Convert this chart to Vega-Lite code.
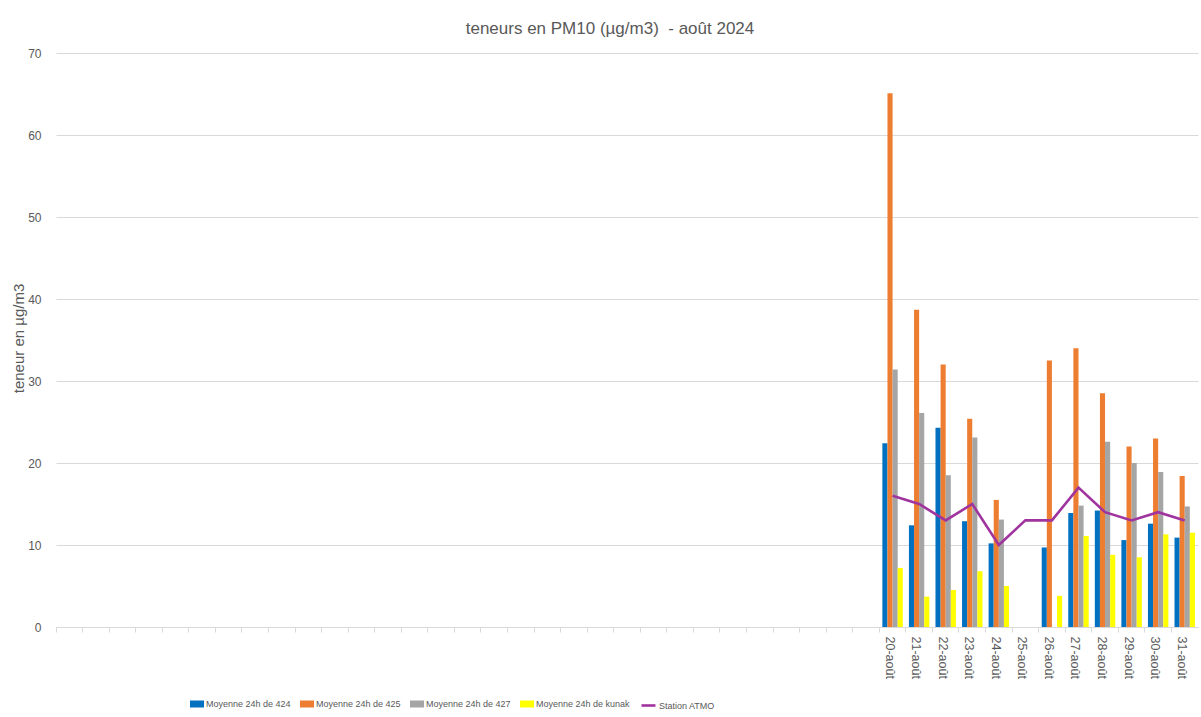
{
  "$schema": "https://vega.github.io/schema/vega-lite/v6.json",
  "width": 1142,
  "height": 574,
  "autosize": {"type": "none"},
  "padding": {"left": 56, "top": 53, "right": 3, "bottom": 90},
  "background": "white",
  "config": {"view": {"stroke": null}, "font": "Liberation Sans"},
  "title": {"text": "teneurs en PM10 (µg/m3)\u00a0 - août 2024", "fontSize": 17, "fontWeight": "normal", "color": "#595959", "offset": 9, "dx": -17, "anchor": "middle"},
  "datasets": {
    "bars": [
      {"jour": "20-août", "serie": "Moyenne 24h de 424", "valeur": 22.4},
      {"jour": "20-août", "serie": "Moyenne 24h de 425", "valeur": 65.1},
      {"jour": "20-août", "serie": "Moyenne 24h de 427", "valeur": 31.4},
      {"jour": "20-août", "serie": "Moyenne 24h de kunak", "valeur": 7.2},
      {"jour": "21-août", "serie": "Moyenne 24h de 424", "valeur": 12.4},
      {"jour": "21-août", "serie": "Moyenne 24h de 425", "valeur": 38.7},
      {"jour": "21-août", "serie": "Moyenne 24h de 427", "valeur": 26.1},
      {"jour": "21-août", "serie": "Moyenne 24h de kunak", "valeur": 3.7},
      {"jour": "22-août", "serie": "Moyenne 24h de 424", "valeur": 24.3},
      {"jour": "22-août", "serie": "Moyenne 24h de 425", "valeur": 32.0},
      {"jour": "22-août", "serie": "Moyenne 24h de 427", "valeur": 18.5},
      {"jour": "22-août", "serie": "Moyenne 24h de kunak", "valeur": 4.5},
      {"jour": "23-août", "serie": "Moyenne 24h de 424", "valeur": 12.9},
      {"jour": "23-août", "serie": "Moyenne 24h de 425", "valeur": 25.4},
      {"jour": "23-août", "serie": "Moyenne 24h de 427", "valeur": 23.1},
      {"jour": "23-août", "serie": "Moyenne 24h de kunak", "valeur": 6.8},
      {"jour": "24-août", "serie": "Moyenne 24h de 424", "valeur": 10.2},
      {"jour": "24-août", "serie": "Moyenne 24h de 425", "valeur": 15.5},
      {"jour": "24-août", "serie": "Moyenne 24h de 427", "valeur": 13.1},
      {"jour": "24-août", "serie": "Moyenne 24h de kunak", "valeur": 5.0},
      {"jour": "26-août", "serie": "Moyenne 24h de 424", "valeur": 9.7},
      {"jour": "26-août", "serie": "Moyenne 24h de 425", "valeur": 32.5},
      {"jour": "26-août", "serie": "Moyenne 24h de kunak", "valeur": 3.8},
      {"jour": "27-août", "serie": "Moyenne 24h de 424", "valeur": 13.9},
      {"jour": "27-août", "serie": "Moyenne 24h de 425", "valeur": 34.0},
      {"jour": "27-août", "serie": "Moyenne 24h de 427", "valeur": 14.8},
      {"jour": "27-août", "serie": "Moyenne 24h de kunak", "valeur": 11.1},
      {"jour": "28-août", "serie": "Moyenne 24h de 424", "valeur": 14.2},
      {"jour": "28-août", "serie": "Moyenne 24h de 425", "valeur": 28.5},
      {"jour": "28-août", "serie": "Moyenne 24h de 427", "valeur": 22.6},
      {"jour": "28-août", "serie": "Moyenne 24h de kunak", "valeur": 8.8},
      {"jour": "29-août", "serie": "Moyenne 24h de 424", "valeur": 10.6},
      {"jour": "29-août", "serie": "Moyenne 24h de 425", "valeur": 22.0},
      {"jour": "29-août", "serie": "Moyenne 24h de 427", "valeur": 20.0},
      {"jour": "29-août", "serie": "Moyenne 24h de kunak", "valeur": 8.5},
      {"jour": "30-août", "serie": "Moyenne 24h de 424", "valeur": 12.6},
      {"jour": "30-août", "serie": "Moyenne 24h de 425", "valeur": 23.0},
      {"jour": "30-août", "serie": "Moyenne 24h de 427", "valeur": 18.9},
      {"jour": "30-août", "serie": "Moyenne 24h de kunak", "valeur": 11.3},
      {"jour": "31-août", "serie": "Moyenne 24h de 424", "valeur": 10.9},
      {"jour": "31-août", "serie": "Moyenne 24h de 425", "valeur": 18.4},
      {"jour": "31-août", "serie": "Moyenne 24h de 427", "valeur": 14.7},
      {"jour": "31-août", "serie": "Moyenne 24h de kunak", "valeur": 11.5}
    ],
    "atmo": [
      {"jour": "20-août", "serie": "Station ATMO", "valeur": 16},
      {"jour": "21-août", "serie": "Station ATMO", "valeur": 15},
      {"jour": "22-août", "serie": "Station ATMO", "valeur": 13},
      {"jour": "23-août", "serie": "Station ATMO", "valeur": 15},
      {"jour": "24-août", "serie": "Station ATMO", "valeur": 10},
      {"jour": "25-août", "serie": "Station ATMO", "valeur": 13},
      {"jour": "26-août", "serie": "Station ATMO", "valeur": 13},
      {"jour": "27-août", "serie": "Station ATMO", "valeur": 17},
      {"jour": "28-août", "serie": "Station ATMO", "valeur": 14},
      {"jour": "29-août", "serie": "Station ATMO", "valeur": 13},
      {"jour": "30-août", "serie": "Station ATMO", "valeur": 14},
      {"jour": "31-août", "serie": "Station ATMO", "valeur": 13}
    ]
  },
  "encoding": {
    "x": {
      "field": "jour",
      "type": "nominal",
      "sort": null,
      "scale": {
        "domain": ["_01","_02","_03","_04","_05","_06","_07","_08","_09","_10","_11","_12","_13","_14","_15","_16","_17","_18","_19","_20","_21","_22","_23","_24","_25","_26","_27","_28","_29","_30","_31","20-août","21-août","22-août","23-août","24-août","25-août","26-août","27-août","28-août","29-août","30-août","31-août"],
        "paddingInner": 0,
        "paddingOuter": 0
      },
      "axis": {
        "title": null,
        "labelExpr": "indexof(datum.label, '_') === 0 ? '' : datum.label",
        "labelAngle": 90,
        "labelAlign": "left",
        "labelBaseline": "middle",
        "labelFontSize": 12.5,
        "labelColor": "#595959",
        "labelPadding": 4,
        "bandPosition": 0,
        "labelOffset": -3,
        "domainColor": "#d9d9d9",
        "tickColor": "#d9d9d9",
        "tickSize": 5,
        "grid": false
      }
    },
    "y": {
      "field": "valeur",
      "type": "quantitative",
      "scale": {"domain": [0, 70], "nice": false},
      "axis": {
        "values": [0, 10, 20, 30, 40, 50, 60, 70],
        "title": "teneur en µg/m3",
        "titleFontSize": 15,
        "titleFontWeight": "normal",
        "titleColor": "#595959",
        "titleX": -38,
        "titleY": 285,
        "titleAngle": -90,
        "titleAlign": "center",
        "titleBaseline": "middle",
        "labelFontSize": 12,
        "labelColor": "#595959",
        "labelPadding": 15,
        "domain": false,
        "ticks": false,
        "grid": true,
        "gridColor": "#d9d9d9"
      }
    }
  },
  "layer": [
    {
      "data": {"name": "bars"},
      "mark": {"type": "bar"},
      "encoding": {
        "xOffset": {
          "field": "serie",
          "type": "nominal",
          "scale": {"domain": ["Moyenne 24h de 424", "Moyenne 24h de 425", "Moyenne 24h de 427", "Moyenne 24h de kunak"], "paddingInner": 0, "paddingOuter": 0.6}
        },
        "fill": {
          "field": "serie",
          "type": "nominal",
          "scale": {"domain": ["Moyenne 24h de 424", "Moyenne 24h de 425", "Moyenne 24h de 427", "Moyenne 24h de kunak"], "range": ["#0070C0", "#ED7D31", "#A5A5A5", "#FFFF00"]},
          "legend": {
            "title": null,
            "orient": "none",
            "legendX": 134,
            "legendY": 644,
            "direction": "horizontal",
            "symbolType": "M-1,-0.5H1V0.5H-1Z",
            "symbolSize": 196,
            "symbolStrokeWidth": 0,
            "labelFont": "Liberation Sans",
            "labelFontSize": 9,
            "labelColor": "#595959",
            "labelOffset": 2,
            "columnPadding": 9
          }
        }
      }
    },
    {
      "data": {"name": "atmo"},
      "mark": {"type": "line", "strokeWidth": 2.6},
      "encoding": {
        "stroke": {
          "field": "serie",
          "type": "nominal",
          "scale": {"domain": ["Station ATMO"], "range": ["#A0349F"]},
          "legend": {
            "title": null,
            "orient": "none",
            "legendX": 584,
            "legendY": 644,
            "direction": "horizontal",
            "symbolType": "stroke",
            "symbolSize": 196,
            "symbolStrokeWidth": 2.6,
            "labelFont": "Liberation Sans",
            "labelFontSize": 9,
            "labelColor": "#595959",
            "labelOffset": 2
          }
        }
      }
    }
  ]
}
